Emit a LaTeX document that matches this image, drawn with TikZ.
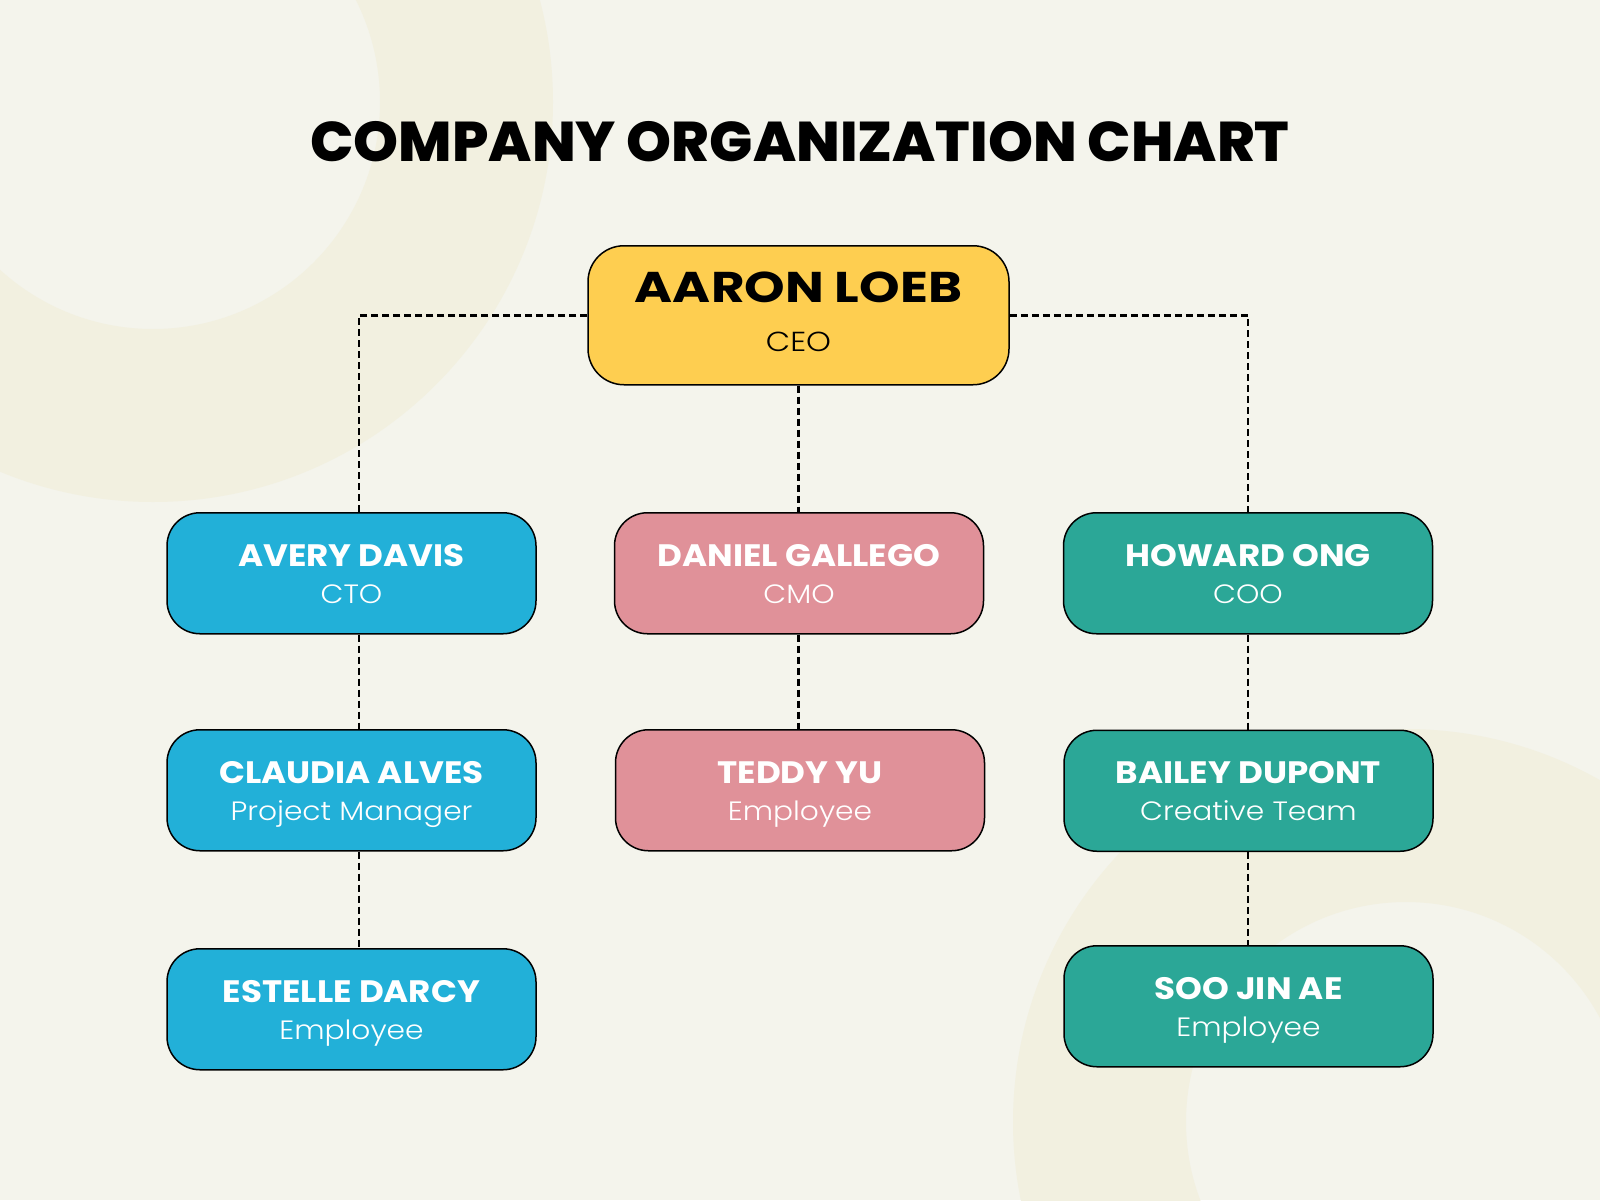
\documentclass[tikz,border=0pt]{standalone}
\usepackage{fontspec}
\setmainfont{Poppins}
\newfontfamily\titlef{Poppins ExtraBold}[FakeStretch=1.022]
\newfontfamily\ceof{Poppins Bold}[FakeStretch=1.2]
\newfontfamily\namef{Poppins Bold}[FakeStretch=1.1]
\newfontfamily\lightf{Poppins Light}[FakeStretch=1.12]
\newfontfamily\ceosubf{Poppins Light}[FakeStretch=1.15]
\usetikzlibrary{calc}
\definecolor{bgc}{HTML}{F4F4EC}
\definecolor{ringc}{HTML}{F2F0E0}
\definecolor{ceoY}{HTML}{FECE50}
\definecolor{blueC}{HTML}{22B0D8}
\definecolor{pinkC}{HTML}{E09199}
\definecolor{tealC}{HTML}{2BA797}
\newcommand\personbox[6]{%
  \node[box, fill=#4] (#1) at (#2,#3) {};
  \node[nm] (#1-n) at ($(#1.north)+(0,54)$) {#5};
  \node[sb] (#1-s) at ($(#1.north)+(0,91)$) {#6};
}
\begin{document}
\begin{tikzpicture}[x=1pt,y=-1pt,
  box/.style={draw=black, line width=1.5pt, rounded corners=33pt, minimum width=369pt, minimum height=121pt, inner sep=0pt, anchor=north},
  nm/.style={anchor=base, text=white, font=\namef\fontsize{31}{31}\selectfont, inner sep=0pt},
  sb/.style={anchor=base, text=white, font=\lightf\fontsize{26.5}{26.5}\selectfont, inner sep=0pt},
  conn/.style={draw=black, line width=2.6pt, dash pattern=on 7pt off 4pt}]
\fill[bgc] (0,0) rectangle (1600,1200);
\useasboundingbox (0,0) rectangle (1600,1200);
\begin{scope}
  \clip (0,0) rectangle (1600,1200);
  \fill[ringc, even odd rule] (153,102) circle[radius=400] (153,102) circle[radius=227];
  \fill[ringc, even odd rule] (1406,1122) circle[radius=393] (1406,1122) circle[radius=220];
\end{scope}
\node[anchor=base, font=\titlef\fontsize{56}{56}\selectfont, inner sep=0pt] (title) at (800,161) {COMPANY ORGANIZATION CHART};
\node[box, fill=ceoY, minimum width=421pt, minimum height=139pt, rounded corners=36pt] (ceo) at (798.5,245) {};
\node[anchor=base, font=\ceof\fontsize{43}{43}\selectfont, inner sep=0pt] (ceo-n) at ($(ceo.north)+(0,57)$) {AARON LOEB};
\node[anchor=base, font=\ceosubf\fontsize{27.5}{27.5}\selectfont, inner sep=0pt] (ceo-s) at ($(ceo.north)+(0,106)$) {CEO};
\personbox{avery}{351.5}{512}{blueC}{AVERY DAVIS}{CTO}
\personbox{daniel}{799}{512}{pinkC}{DANIEL GALLEGO}{CMO}
\personbox{howard}{1248}{512}{tealC}{HOWARD ONG}{COO}
\personbox{claudia}{351.5}{729}{blueC}{CLAUDIA ALVES}{Project Manager}
\personbox{teddy}{800}{729}{pinkC}{TEDDY YU}{Employee}
\personbox{bailey}{1248.5}{729.5}{tealC}{BAILEY DUPONT}{Creative Team}
\personbox{estelle}{351.5}{948}{blueC}{ESTELLE DARCY}{Employee}
\personbox{soojin}{1248.5}{945}{tealC}{SOO JIN AE}{Employee}
\coordinate (lx) at (359,0);
\draw[conn] (ceo.west) -| (avery.north -| lx);
\draw[conn] (ceo.east) -| (howard.north);
\draw[conn] (ceo.south) -- (ceo.south |- daniel.north);
\draw[conn] (avery.south -| lx) -- (claudia.north -| lx);
\draw[conn] (claudia.south -| lx) -- (estelle.north -| lx);
\draw[conn] (daniel.south -| ceo.south) -- (teddy.north -| ceo.south);
\draw[conn] (howard.south) -- (bailey.north -| howard.south);
\draw[conn] (bailey.south -| howard.south) -- (soojin.north -| howard.south);
\end{tikzpicture}
\end{document}
